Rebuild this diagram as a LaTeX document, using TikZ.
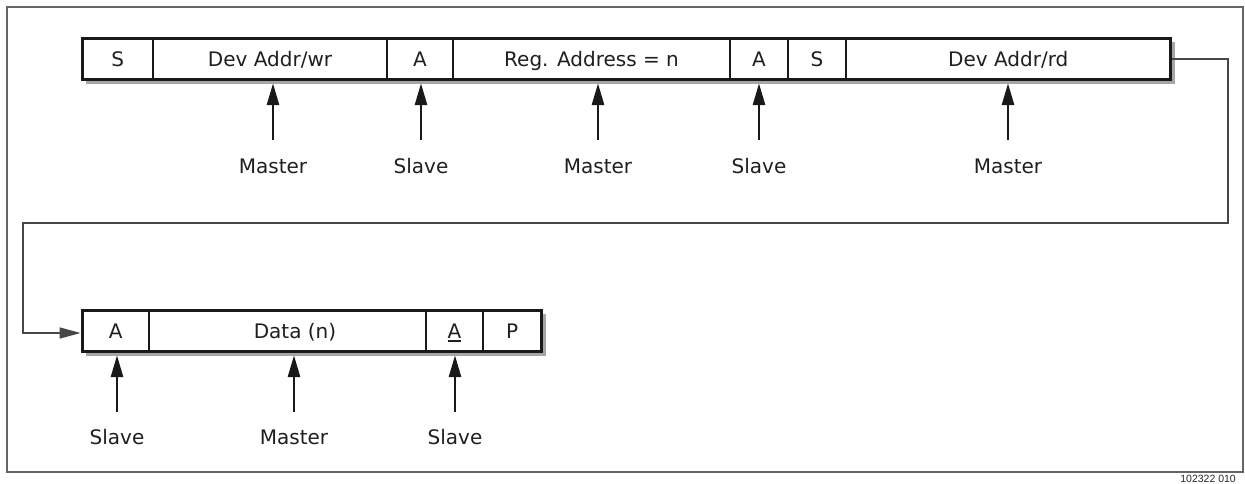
\documentclass[tikz,border=0pt]{standalone}
\usepackage{fontspec}
\setmainfont{DejaVu Sans}
\newfontfamily\plainsans{Liberation Sans}
\usetikzlibrary{arrows.meta,backgrounds,calc}
\newcommand\ulA{\setbox0\hbox{A}\rlap{\rule[-3.5pt]{\wd0}{1.6pt}}A}
\begin{document}
\begin{tikzpicture}[x=1pt,y=-1pt,
  cell/.style={inner sep=0pt, minimum height=41pt, text height=14.6pt, text depth=0pt,
    font=\fontsize{20}{24}\selectfont, text=black!88},
  lbl/.style={inner sep=0pt, text height=14.6pt, text depth=0pt,
    font=\fontsize{20}{24}\selectfont, text=black!88},
  divider/.style={line width=2.2pt, black!90},
  barframe/.style={line width=3.4pt, black!90},
  shadowbox/.style={fill=black!35},
  uparrow/.style={line width=2.8pt, black!90, -{Triangle[length=22pt,width=12pt]}},
  conn/.style={line width=1.5pt, black!72, -{Triangle[length=21pt,width=11pt]}},
  outerframe/.style={line width=1.5pt, black!60},
]
\useasboundingbox (0,0) rectangle (1245,483);
\draw[outerframe] (7,7) rectangle (1243,472);

% top bar cells
\node[cell, minimum width=70.5pt]  (t1) at (117.75,59) {S};
\node[cell, minimum width=234pt]   (t2) at (270,59) {Dev Addr/wr};
\node[cell, minimum width=66pt]    (t3) at (420,59) {A};
\node[cell, minimum width=277pt]   (t4) at (591.5,59) {Reg. Address = n};
\node[cell, minimum width=58pt]    (t5) at (759,59) {A};
\node[cell, minimum width=58pt]    (t6) at (817,59) {S};
\node[cell, minimum width=324.5pt] (t7) at (1008.25,59) {Dev Addr/rd};
\foreach \c in {t1,t2,t3,t4,t5,t6} \draw[divider] (\c.north east) -- (\c.south east);
\draw[barframe] (t1.north west) rectangle (t7.south east);

% bottom bar cells
\node[cell, minimum width=66.5pt] (b1) at (115.75,331) {A};
\node[cell, minimum width=277pt]  (b2) at (287.5,331) {\hspace*{15pt}Data (n)};
\node[cell, minimum width=57pt]   (b3) at (454.5,331) {\ulA};
\node[cell, minimum width=58.5pt] (b4) at (512.25,331) {P};
\foreach \c in {b1,b2,b3} \draw[divider] (\c.north east) -- (\c.south east);
\draw[barframe] (b1.north west) rectangle (b4.south east);

\begin{scope}[on background layer]
  \fill[shadowbox] ($(t1.north west)+(4,4)$) rectangle ($(t7.south east)+(4.5,4.5)$);
  \fill[white] (t1.north west) rectangle (t7.south east);
  \fill[shadowbox] ($(b1.north west)+(4,4)$) rectangle ($(b4.south east)+(4.5,4.5)$);
  \fill[white] (b1.north west) rectangle (b4.south east);
\end{scope}

% labels top
\node[lbl] (m1) at (273,166) {Master};
\node[lbl] (s1) at (421,166) {Slave};
\node[lbl] (m2) at (598,166) {Master};
\node[lbl] (s2) at (759,166) {Slave};
\node[lbl] (m3) at (1008,166) {Master};
\foreach \l/\c in {m1/t2,s1/t3,m2/t4,s2/t5,m3/t7}
  \draw[uparrow] ($(\l.north)+(0,-18.7)$) -- ($(\l.north |- \c.south)+(0,3.5)$);

% labels bottom
\node[lbl] (s3) at (117,437) {Slave};
\node[lbl] (m4) at (294,437) {Master};
\node[lbl] (s4) at (455,437) {Slave};
\foreach \l/\c in {s3/b1,m4/b2,s4/b3}
  \draw[uparrow] ($(\l.north)+(0,-17.7)$) -- ($(\l.north |- \c.south)+(0,3.5)$);

% connector
\coordinate (c1) at (1228,223);
\coordinate (c2) at (23,333);
\draw[conn] ($(t7.east)+(1.7,0)$) -| (c1) -| (c2) -- ($(c2 -| b1.west)+(-1.7,0)$);

\node[inner sep=0pt, anchor=base east, font=\plainsans\fontsize{10.5}{12}\selectfont, text=black!85] (code) at (1236,482) {102322 010};
\end{tikzpicture}
\end{document}
